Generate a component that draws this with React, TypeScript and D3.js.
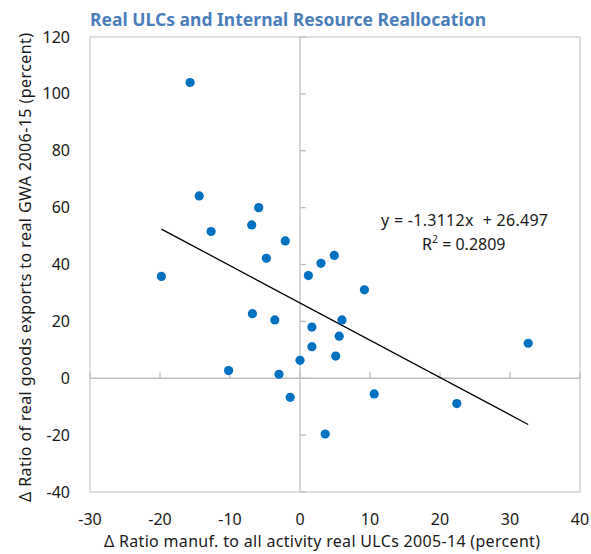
import React from "react";
import * as d3 from "d3";

const xValues = [-15.7, -14.4, -12.7, -19.8, -5.9, -6.9, -2.1, -4.8, 4.9, 3.0, 1.2, 9.2, -6.8, -3.6, 6.0, 1.7, 5.6, 1.7, 5.1, 0.0, -10.2, -3.0, -1.4, 10.6, 3.6, 22.4, 32.6];
const yValues = [104.0, 64.1, 51.6, 35.8, 60.0, 53.9, 48.3, 42.2, 43.2, 40.4, 36.1, 31.1, 22.7, 20.5, 20.5, 18.0, 14.8, 11.1, 7.8, 6.3, 2.7, 1.4, -6.7, -5.5, -19.6, -8.9, 12.3];
const xTicks = [-30, -20, -10, 0, 10, 20, 30, 40];
const yTicks = [-40, -20, 0, 20, 40, 60, 80, 100, 120];
const slope = -1.3112;
const intercept = 26.497;
const rSquared = "0.2809";

const title = "Real ULCs and Internal Resource Reallocation";
const xTitle = "\u0394 Ratio manuf. to all activity real ULCs 2005-14 (percent)";
const yTitle = "\u0394 Ratio of real goods exports to real GWA 2006-15 (percent)";

const W = 591;
const H = 554;
const left = 90;
const right = 580;
const top = 37;
const bottom = 492;
const font = "'Noto Sans', 'Open Sans', sans-serif";
const grey = "#bfbfbf";

export default function App() {
  const x = d3.scaleLinear().domain([-30, 40]).range([left, right]);
  const y = d3.scaleLinear().domain([-40, 120]).range([bottom, top]);
  const xMin = d3.min(xValues) as number;
  const xMax = d3.max(xValues) as number;
  const line = d3
    .line<number>()
    .x((d) => x(d))
    .y((d) => y(slope * d + intercept));

  return (
    <svg width={W} height={H} style={{ position: "absolute", left: 0, top: 0 }}>
      <rect x={0} y={0} width={W} height={H} fill="#fff" />
      <text x={90} y={26} fontFamily={font} fontWeight="bold" fontSize={17.5} fill="#4a7ebb" textLength={396} lengthAdjust="spacing">
        {title}
      </text>
      <rect x={left} y={top} width={right - left} height={bottom - top} fill="none" stroke={grey} strokeWidth={1} />
      <line x1={left} x2={right} y1={y(0)} y2={y(0)} stroke={grey} strokeWidth={1.3} />
      <line x1={x(0)} x2={x(0)} y1={top} y2={bottom} stroke={grey} strokeWidth={1.3} />
      {yTicks.map((t) => (
        <line key={"yt" + t} x1={x(0)} x2={x(0) + 6} y1={y(t)} y2={y(t)} stroke={grey} strokeWidth={1.3} />
      ))}
      {xTicks.map((t) => (
        <line key={"xt" + t} x1={x(t)} x2={x(t)} y1={y(0) - 6} y2={y(0)} stroke={grey} strokeWidth={1.3} />
      ))}
      {yTicks.map((t) => (
        <text key={"yl" + t} x={70} y={y(t)} dy="0.35em" textAnchor="end" fontFamily={font} fontSize={16} fill="#1a1a1a">
          {t}
        </text>
      ))}
      {xTicks.map((t) => (
        <text key={"xl" + t} x={x(t)} y={525} textAnchor="middle" fontFamily={font} fontSize={16} fill="#1a1a1a">
          {t}
        </text>
      ))}
      <text x={104} y={547} fontFamily={font} fontSize={16} fill="#1a1a1a" textLength={436} lengthAdjust="spacing">
        {xTitle}
      </text>
      <text
        transform={`translate(31, 502) rotate(-90)`}
        fontFamily={font}
        fontSize={16}
        fill="#1a1a1a"
        textLength={469}
        lengthAdjust="spacing"
      >
        {yTitle}
      </text>
      <path d={line([xMin, xMax]) || ""} fill="none" stroke="#000" strokeWidth={1.3} />
      {xValues.map((v, i) => (
        <circle key={"p" + i} cx={x(v)} cy={y(yValues[i])} r={4.6} fill="#0070c0" />
      ))}
      <text x={381} y={226} fontFamily={font} fontSize={16} fill="#1a1a1a" textLength={167} lengthAdjust="spacing" style={{ whiteSpace: "pre" }}>
        {"y = -1.3112x  + 26.497"}
      </text>
      <text x={422} y={250} fontFamily={font} fontSize={16} fill="#1a1a1a">
        R<tspan fontSize={10.5} dy={-7}>2</tspan>
        <tspan dy={7}>{" = " + rSquared}</tspan>
      </text>
    </svg>
  );
}
